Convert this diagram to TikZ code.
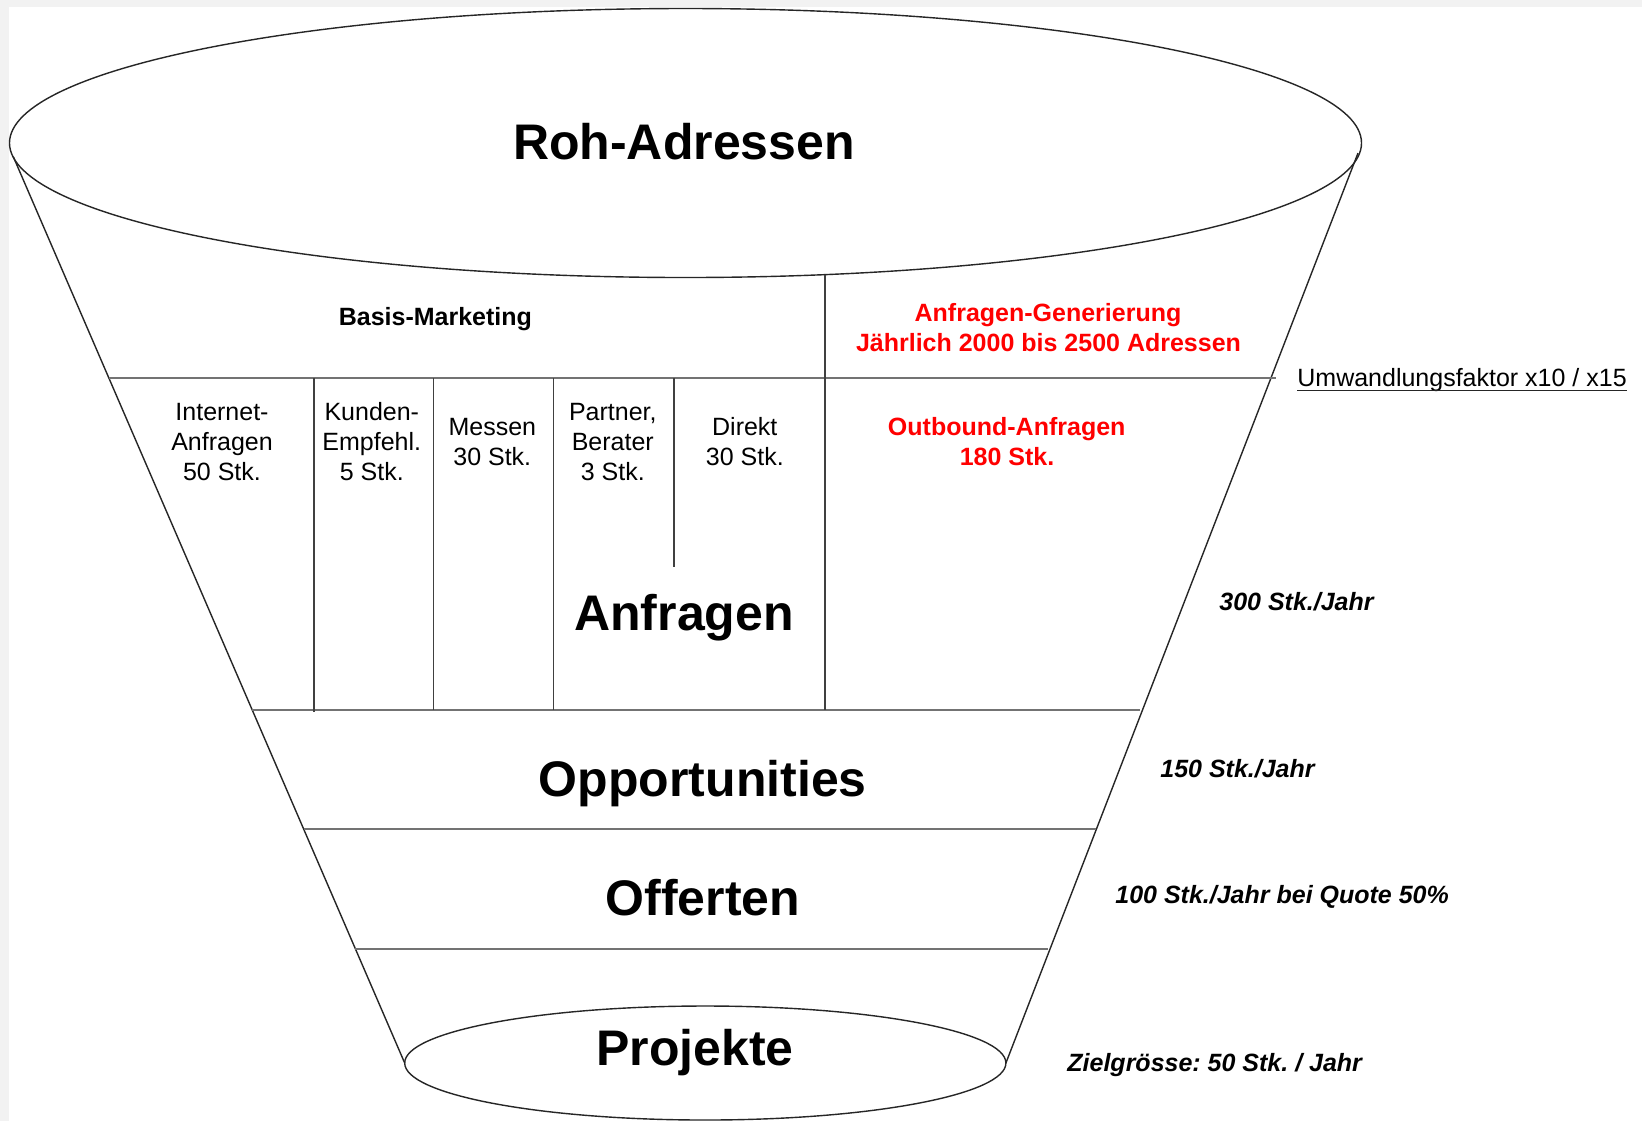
\documentclass[tikz,border=0pt]{standalone}
\usepackage{fontspec}
\setmainfont{Liberation Sans}
\frenchspacing
\begin{document}
\begin{tikzpicture}[x=0.5pt,y=-0.5pt,
  outl/.style={line width=0.7pt,black!85},
  hline/.style={line width=1pt,black!55},
  vline/.style={line width=0.7pt,black!75},
  sml/.style={inner sep=0pt,anchor=base,font=\fontsize{12.5}{15}\selectfont},
  smlb/.style={sml,font=\fontsize{12.5}{15}\selectfont\bfseries},
  redb/.style={smlb,text=red},
  rate/.style={inner sep=0pt,anchor=base west,font=\fontsize{12.5}{15}\selectfont\bfseries\itshape},
  big/.style={inner sep=0pt,anchor=base,font=\fontsize{25}{30}\selectfont\bfseries}]
\useasboundingbox (0,0) rectangle (1642,1121);
\fill[black!5] (0,0) rectangle (1642,1121);
\fill[white] (9,7) rectangle (1642,1121);
\begin{scope}
\clip (0,0) rectangle (1642,1121);
% funnel outline
\coordinate (tl) at (13.3,156.7);
\coordinate (tr) at (1358,153);
\coordinate (bl) at (404.7,1063);
\coordinate (br) at (1005.9,1063);
\draw[outl] (685.5,143) ellipse [x radius=676, y radius=134.5];
\draw[outl] (tl) -- (bl);
\draw[outl] (tr) -- (br);
\draw[outl] (705.3,1063) ellipse [x radius=300.6, y radius=57];
% horizontal dividers
\coordinate (h1l) at (108.9,378.3); \coordinate (h1r) at (1276,378.3);
\coordinate (h2l) at (252.1,709.5); \coordinate (h2r) at (1140,709.5);
\coordinate (h3l) at (303.8,829.3); \coordinate (h3r) at (1095.7,829.3);
\coordinate (h4l) at (355.3,948.5); \coordinate (h4r) at (1048,948.5);
\draw[hline] (h1l) -- (h1r);
\draw[hline] (h2l) -- (h2r);
\draw[hline] (h3l) -- (h3r);
\draw[hline] (h4l) -- (h4r);
% vertical dividers
\draw[vline] (313.8,378.3) -- (313.8,711.5);
\draw[vline] (433.4,378.3) -- (433.4,709.5);
\draw[vline] (553.4,378.3) -- (553.4,709.5);
\draw[vline] (674,378.3) -- (674,566.7);
\draw[vline] (825,274.6) -- (825,709.5);
\end{scope}
% big labels
\node[big] (roh) at (684,159) {Roh-Adressen};
\node[big] (anf) at (684,630) {Anfragen};
\node[big] (opp) at (702.8,796.7) {Opportunities};
\node[big] (off) at (703,915) {Offerten};
\node[big] (proj) at (695,1065) {Projekte};
% Basis-Marketing / Anfragen-Generierung
\node[smlb] (basis) at (435.4,325) {Basis-Marketing};
\node[redb] (gen1) at (1048,321.7) {Anfragen-Generierung};
\node[redb] (gen2) at (1048.5,351.7) {Jährlich 2000 bis 2500 Adressen};
\node[redb] (out1) at (1006.7,435.7) {Outbound-Anfragen};
\node[redb] (out2) at (1007,465.7) {180 Stk.};
% columns
\node[sml] (c1a) at (222,420) {Internet-};
\node[sml] (c1b) at (222,450) {Anfragen};
\node[sml] (c1c) at (222,480.5) {50 Stk.};
\node[sml] (c2a) at (371.8,420) {Kunden-};
\node[sml] (c2b) at (371.8,450) {Empfehl.};
\node[sml] (c2c) at (371.8,480.5) {5 Stk.};
\node[sml] (c3a) at (492.3,435) {Messen};
\node[sml] (c3b) at (492.3,465) {30 Stk.};
\node[sml] (c4a) at (612.8,420) {Partner,};
\node[sml] (c4b) at (612.8,450) {Berater};
\node[sml] (c4c) at (612.8,480.5) {3 Stk.};
\node[sml] (c5a) at (744.8,435) {Direkt};
\node[sml] (c5b) at (744.8,465) {30 Stk.};
% right side
\node[sml,anchor=base west] (ufak) at (1297,386.7) {Umwandlungsfaktor x10 / x15};
\draw[line width=0.6pt,black!85] ([yshift=-2pt]ufak.base west) -- ([yshift=-2pt]ufak.base east);
\node[rate] (r300) at (1219,610) {300 Stk./Jahr};
\node[rate] (r150) at (1160,777.3) {150 Stk./Jahr};
\node[rate] (r100) at (1115,903.3) {100 Stk./Jahr bei Quote 50\%};
\node[rate] (r50) at (1067,1071.7) {Zielgrösse: 50 Stk. / Jahr};
\end{tikzpicture}
\end{document}
